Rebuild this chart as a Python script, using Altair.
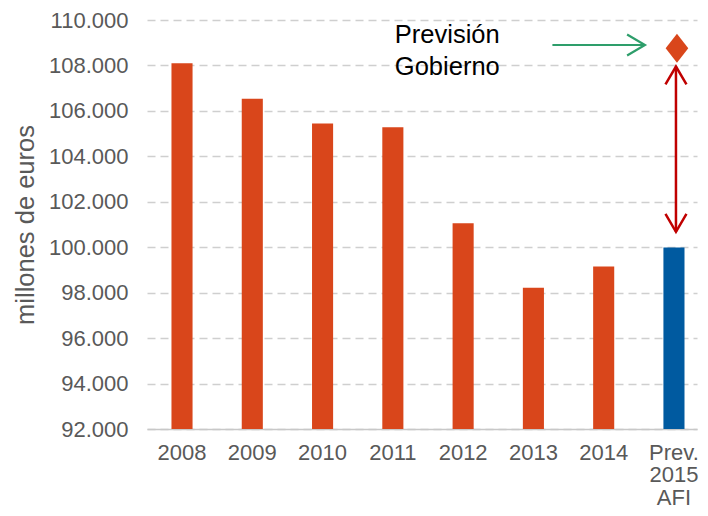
import altair as alt
import pandas as pd

categories = ["2008", "2009", "2010", "2011", "2012", "2013", "2014", "Prev. 2015 AFI"]
values = [108100, 106530, 105450, 105280, 101060, 98220, 99150, 99990]
kinds = ["hist"] * 7 + ["prev"]
gov_forecast = 108760
gov_arrow_y = 108900
arrow_top = 107950
arrow_bottom = 100680
text_y = 109340
y_ticks = list(range(92000, 110001, 2000))

FONT = "Liberation Sans"
FS = 22
FS_BIG = 25.5
ORANGE = "#D9461B"
BLUE = "#005AA0"
RED = "#C00000"
GREEN = "#2E9E6B"

df = pd.DataFrame({"cat": categories, "value": values, "kind": kinds})

xscale = alt.Scale(domain=categories, paddingInner=0.7, paddingOuter=0.263, align=0.662)
yscale = alt.Scale(domain=[92000, 110000], nice=False, zero=False)

x = alt.X("cat:N", scale=xscale, sort=categories,
          axis=alt.Axis(title=None, labelAngle=0, labelExpr="split(datum.label, ' ')",
                        labelFontSize=FS, labelColor="#595959", labelFont=FONT,
                        labelLineHeight=22.5, labelPadding=13, ticks=False, tickSize=0,
                        domainColor="#C8C8C8", domainWidth=1.5, grid=False,
                        labelBaseline="top"))
y = alt.Y("value:Q", scale=yscale,
          axis=alt.Axis(title="millones de euros", values=y_ticks,
                        labelExpr="replace(format(datum.value, ',.0f'), ',', '.')",
                        labelFontSize=FS, labelColor="#595959", labelFont=FONT,
                        labelPadding=19, ticks=False, tickSize=0, domain=False,
                        grid=True, gridColor="#CFCFCF", gridDash=[8, 5], gridWidth=1.5,
                        titleFontSize=FS_BIG, titleFont=FONT, titleColor="#595959",
                        titleFontWeight="normal", titlePadding=10))

bars = alt.Chart(df).mark_bar(clip=True).encode(
    x=x, y=y,
    color=alt.Color("kind:N", scale=alt.Scale(domain=["hist", "prev"], range=[ORANGE, BLUE]), legend=None),
)

prev = categories[-1]

diamond = alt.Chart(pd.DataFrame({"cat": [prev], "value": [gov_forecast]})).mark_point(
    shape="M0,-1L0.78,0L0,1L-0.78,0Z", size=841, filled=True, color=ORANGE, opacity=1, xOffset=3
).encode(x=alt.X("cat:N", scale=xscale), y=alt.Y("value:Q", scale=yscale))

red_rule = alt.Chart(pd.DataFrame({"cat": [prev], "top": [arrow_top], "bottom": [arrow_bottom]})).mark_rule(
    color=RED, strokeWidth=2.5, xOffset=2
).encode(x=alt.X("cat:N", scale=xscale), y=alt.Y("top:Q", scale=yscale), y2="bottom:Q")

red_up = alt.Chart(pd.DataFrame({"cat": [prev], "value": [arrow_top]})).mark_point(
    shape="M-1,1.7L0,0L1,1.7", size=441, filled=False, color=RED, strokeWidth=2.5, opacity=1, xOffset=2
).encode(x=alt.X("cat:N", scale=xscale), y=alt.Y("value:Q", scale=yscale))

red_down = alt.Chart(pd.DataFrame({"cat": [prev], "value": [arrow_bottom]})).mark_point(
    shape="M-1,-1.7L0,0L1,-1.7", size=441, filled=False, color=RED, strokeWidth=2.5, opacity=1, xOffset=2
).encode(x=alt.X("cat:N", scale=xscale), y=alt.Y("value:Q", scale=yscale))

green_rule = alt.Chart(pd.DataFrame({"a": ["2013"], "b": [prev], "value": [gov_arrow_y]})).mark_rule(
    color=GREEN, strokeWidth=2.2, xOffset=19, x2Offset=-30
).encode(x=alt.X("a:N", scale=xscale), x2="b:N", y=alt.Y("value:Q", scale=yscale))

green_head = alt.Chart(pd.DataFrame({"cat": [prev], "value": [gov_arrow_y]})).mark_point(
    shape="M-1.7,-1L0,0L-1.7,1", size=441, filled=False, color=GREEN, strokeWidth=2.2, opacity=1,
    xOffset=-29
).encode(x=alt.X("cat:N", scale=xscale), y=alt.Y("value:Q", scale=yscale))

label = alt.Chart(pd.DataFrame({"cat": ["2011"], "value": [text_y], "t": ["Previsión\nGobierno"]})).mark_text(
    align="left", baseline="middle", dx=2, fontSize=FS_BIG, font=FONT, color="#000000",
    lineBreak="\n", lineHeight=32
).encode(x=alt.X("cat:N", scale=xscale), y=alt.Y("value:Q", scale=yscale), text="t:N")

chart = alt.layer(bars, diamond, red_rule, red_up, red_down, green_rule, green_head, label).properties(
    width=550, height=409,
    autosize=alt.AutoSizeParams(type="none"),
    padding={"left": 139, "top": 12, "right": 3, "bottom": 79},
).configure(font=FONT, view=alt.ViewConfig(stroke=None))

chart.save("out.html", embed_options={"renderer": "svg", "actions": False})
